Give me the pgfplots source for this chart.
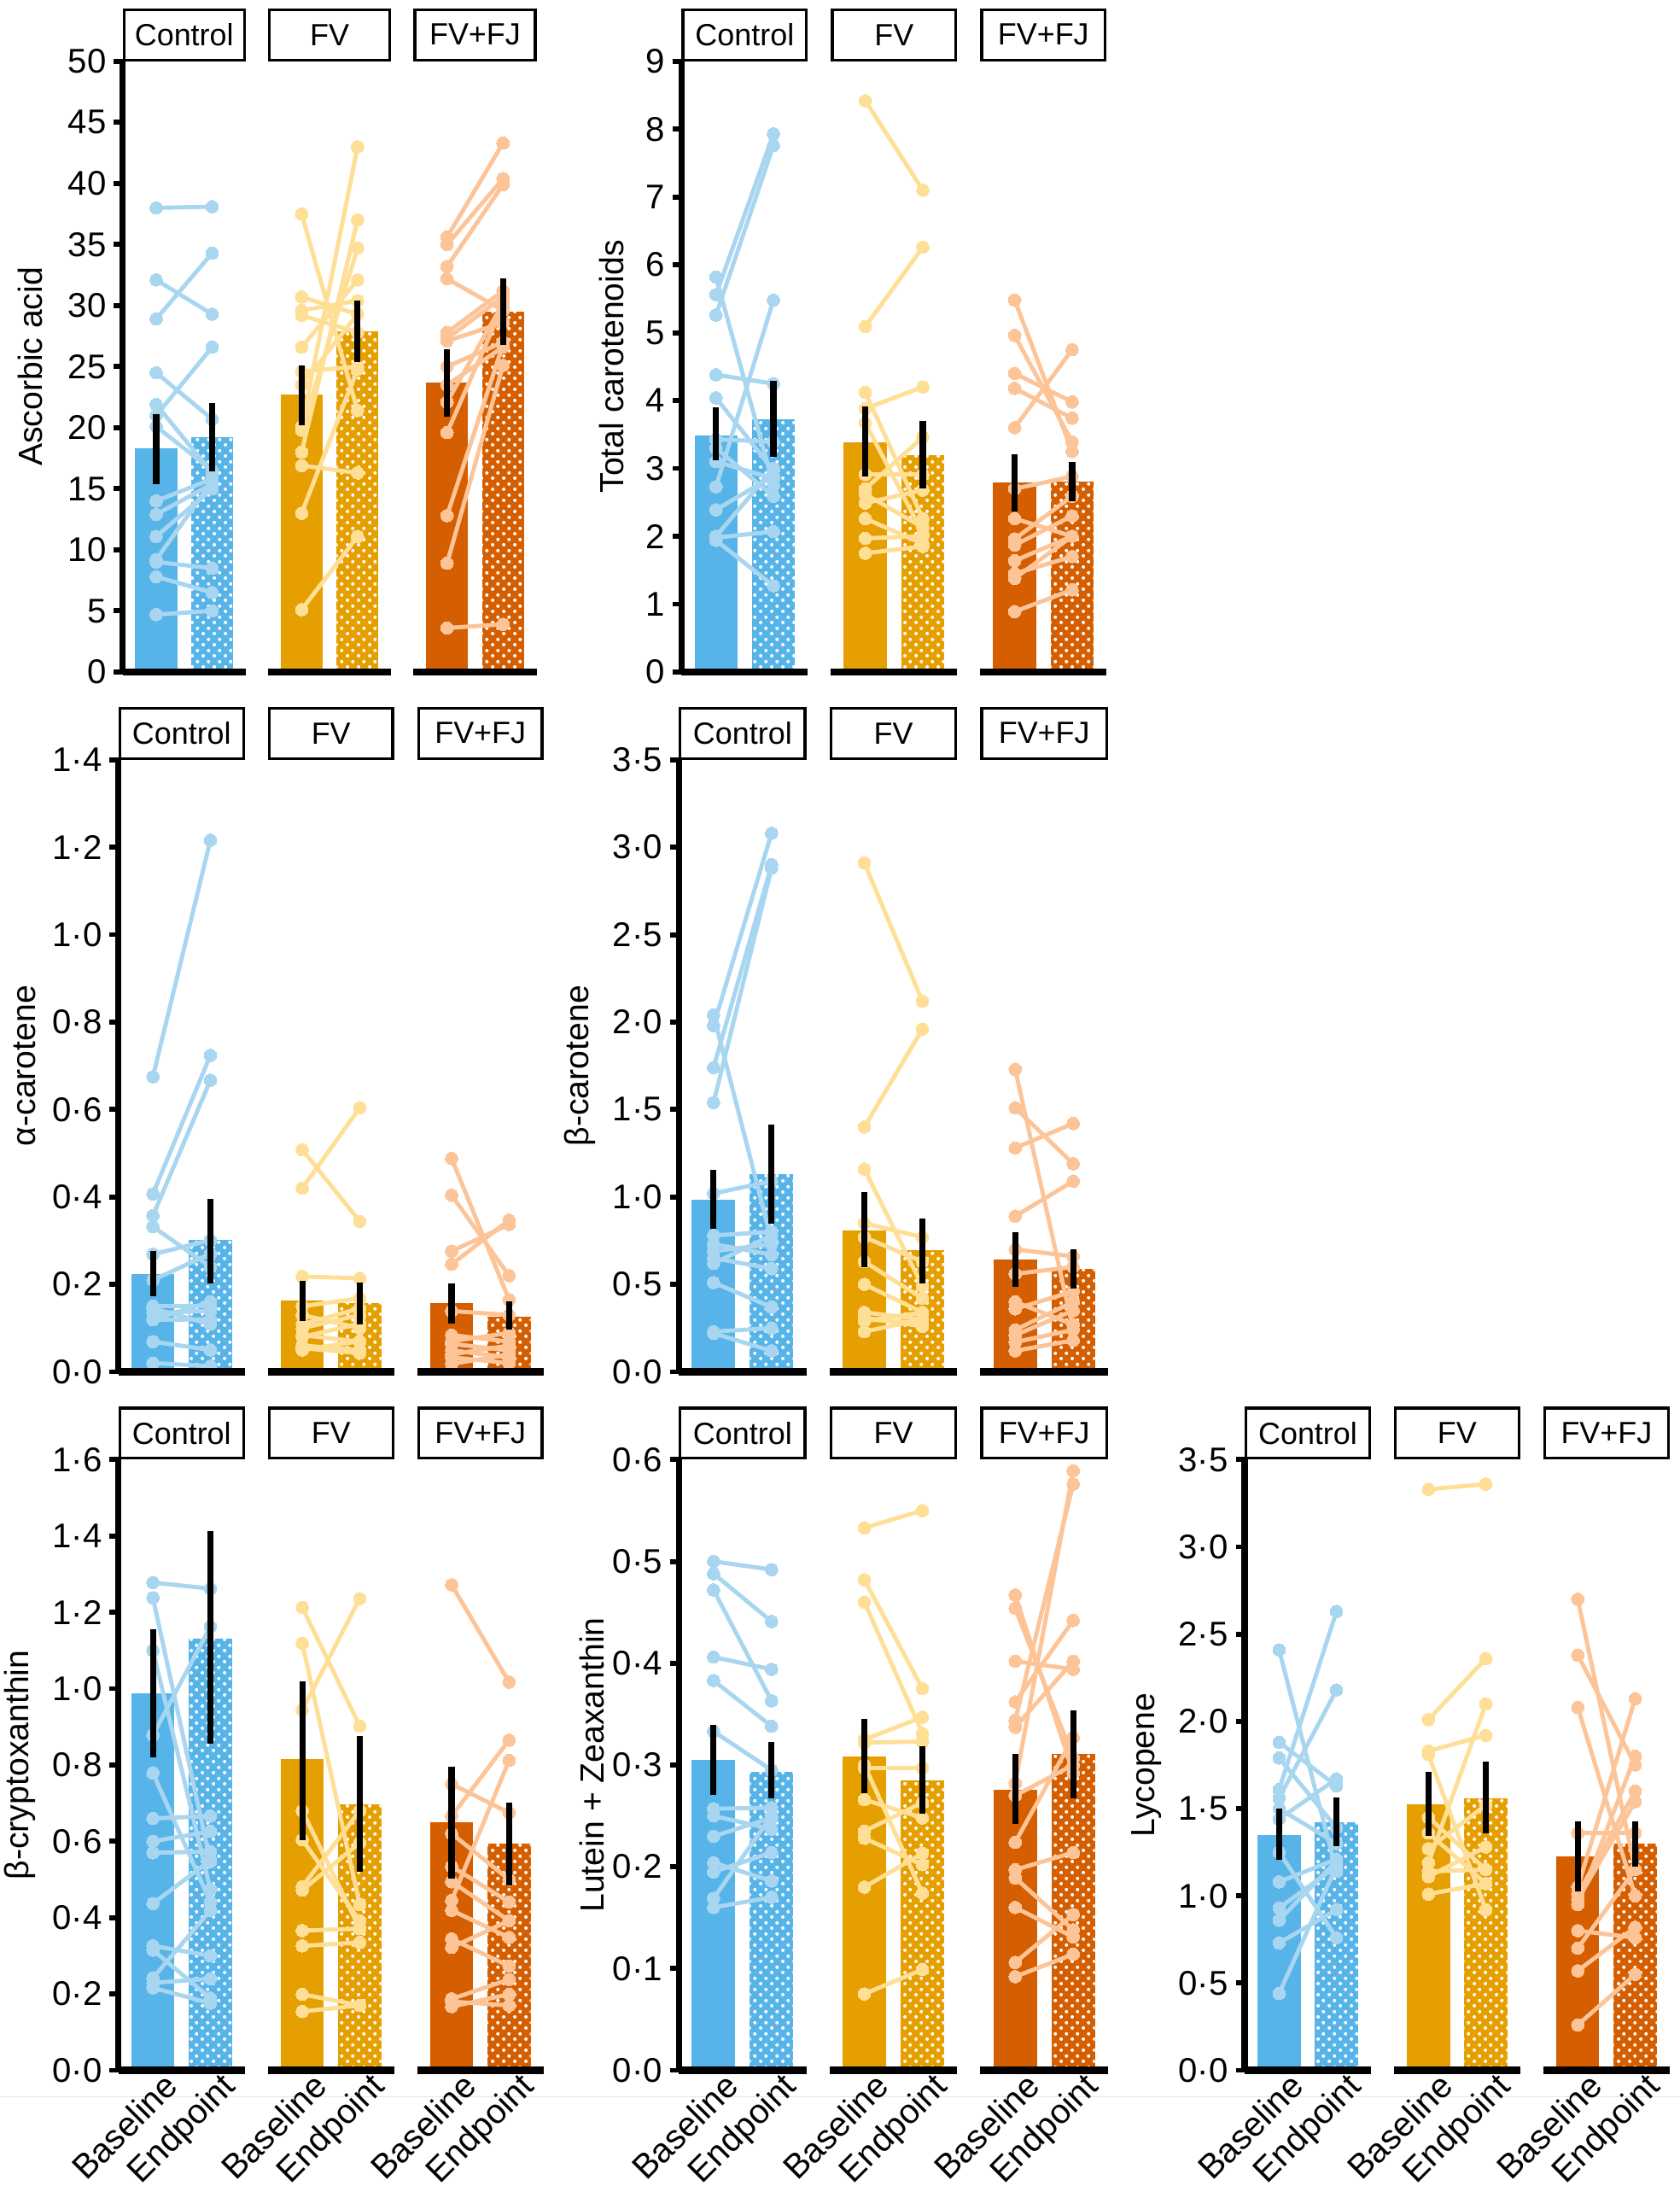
\documentclass[border=0pt]{standalone}
\usepackage{fontspec}
\setmainfont{Liberation Sans}
\usepackage{pgfplots}
\pgfplotsset{compat=1.18}
\usepackage{pgfplotstable}
\usetikzlibrary{patterns.meta}

% white dot fill used for the endpoint bars
\pgfdeclarepattern{
  name=wdots,
  type=uncolored,
  bottom left={\pgfpoint{0pt}{0pt}},
  top right={\pgfpoint{4pt}{4pt}},
  tile size={\pgfpoint{4pt}{4pt}},
  code={
    \pgfpathcircle{\pgfpoint{1pt}{1pt}}{0.65pt}
    \pgfpathcircle{\pgfpoint{3pt}{3pt}}{0.65pt}
    \pgfusepath{fill}
  }
}

\definecolor{cC}{HTML}{56B4E9}
\definecolor{cF}{HTML}{E69F00}
\definecolor{cJ}{HTML}{D55E00}
\definecolor{lC}{RGB}{168,214,240}
\definecolor{lF}{RGB}{255,222,150}
\definecolor{lJ}{RGB}{253,196,152}

\newcommand\tickfont{\fontsize{12.3}{14}\selectfont}
\newcommand\titlefont{\fontsize{12}{14}\selectfont}
\newcommand\stripfont{\fontsize{11}{13}\selectfont}

% ---------------- individual values: b = baseline, e = endpoint ----------------
% Ascorbic acid
\pgfplotstableread{
b e
38.0 38.1
32.1 29.3
28.9 34.3
24.5 20.7
21.0 26.6
21.9 16.3
20.1 16.5
14.0 15.8
12.9 15.4
11.1 15.0
9.2 15.6
9.0 8.5
7.8 6.5
4.7 5.0
}\ascC
\pgfplotstableread{
b e
37.5 21.4
30.7 29.3
29.6 30.4
29.2 27.8
26.6 32.1
24.6 25.0
23.5 29.3
20.1 43.0
19.8 34.7
18.0 37.0
16.9 16.3
13.0 24.8
5.1 11.1
}\ascF
\pgfplotstableread{
b e
35.6 43.3
35.0 40.4
33.2 39.9
32.2 29.6
27.8 31.2
27.3 30.7
27.1 28.6
25.0 27.0
23.5 26.6
22.1 30.2
19.6 30.0
12.8 26.8
8.9 25.1
3.6 3.9
}\ascJ
% Total carotenoids
\pgfplotstableread{
b e
5.82 2.75
5.56 7.93
5.26 7.76
4.38 4.25
4.04 2.97
3.43 3.39
3.30 2.59
3.10 2.85
2.73 5.48
2.39 2.89
2.00 3.00
1.98 2.07
1.94 1.27
}\totC
\pgfplotstableread{
b e
8.42 7.10
5.09 6.26
4.12 2.26
3.88 4.20
3.67 2.04
2.91 2.91
2.70 3.46
2.62 2.13
2.49 2.68
2.26 1.89
1.97 2.00
1.75 1.85
}\totF
\pgfplotstableread{
b e
5.48 3.25
4.96 3.39
4.40 3.98
4.18 3.74
3.60 4.75
2.70 2.88
2.26 2.00
1.96 2.59
1.87 2.30
1.64 2.00
1.45 1.70
1.38 2.00
0.89 1.21
}\totJ
% alpha-carotene
\pgfplotstableread{
b e
0.675 1.216
0.407 0.724
0.357 0.667
0.332 0.240
0.269 0.301
0.210 0.270
0.150 0.150
0.145 0.109
0.134 0.140
0.119 0.120
0.120 0.160
0.069 0.050
0.020 0.013
}\alpC
\pgfplotstableread{
b e
0.508 0.344
0.420 0.604
0.218 0.214
0.150 0.168
0.130 0.100
0.109 0.145
0.100 0.130
0.084 0.069
0.080 0.110
0.060 0.050
0.054 0.043
0.050 0.070
}\alpF
\pgfplotstableread{
b e
0.488 0.165
0.404 0.220
0.276 0.337
0.246 0.347
0.139 0.130
0.084 0.069
0.070 0.089
0.064 0.049
0.049 0.033
0.040 0.060
0.033 0.020
0.018 0.040
}\alpJ
% beta-carotene
\pgfplotstableread{
b e
2.04 0.75
1.98 3.08
1.74 2.90
1.54 2.88
1.02 1.09
0.78 0.80
0.73 0.67
0.69 0.73
0.65 0.59
0.62 0.78
0.51 0.37
0.23 0.25
0.22 0.12
}\betC
\pgfplotstableread{
b e
2.91 2.12
1.40 1.96
1.16 0.49
0.85 0.77
0.77 0.63
0.63 0.42
0.50 0.34
0.34 0.30
0.31 0.26
0.30 0.28
0.29 0.34
0.23 0.30
}\betF
\pgfplotstableread{
b e
1.73 0.24
1.51 1.19
1.28 1.42
0.89 1.09
0.70 0.66
0.56 0.60
0.40 0.27
0.36 0.46
0.24 0.40
0.21 0.35
0.17 0.24
0.12 0.18
}\betJ
% beta-cryptoxanthin
\pgfplotstableread{
b e
1.278 1.262
1.238 0.547
1.100 0.474
0.878 1.163
0.779 0.441
0.660 0.666
0.600 0.626
0.570 0.573
0.437 0.550
0.326 0.300
0.315 0.189
0.242 0.419
0.229 0.240
0.216 0.176
}\cryC
\pgfplotstableread{
b e
1.213 0.902
1.119 0.434
0.944 1.236
0.680 0.371
0.604 0.392
0.481 0.680
0.472 0.596
0.366 0.371
0.326 0.335
0.199 0.170
0.154 0.170
}\cryF
\pgfplotstableread{
b e
1.272 1.017
0.750 0.675
0.666 0.865
0.620 0.500
0.534 0.441
0.494 0.392
0.445 0.812
0.419 0.348
0.344 0.273
0.322 0.392
0.187 0.238
0.180 0.170
0.167 0.199
}\cryJ
% Lutein + Zeaxanthin
\pgfplotstableread{
b e
0.500 0.492
0.488 0.441
0.472 0.363
0.406 0.394
0.383 0.338
0.333 0.295
0.257 0.258
0.250 0.237
0.230 0.248
0.204 0.186
0.195 0.214
0.169 0.250
0.160 0.170
}\lutC
\pgfplotstableread{
b e
0.533 0.550
0.482 0.375
0.460 0.331
0.325 0.347
0.322 0.323
0.297 0.297
0.300 0.174
0.266 0.248
0.235 0.263
0.228 0.202
0.180 0.213
0.075 0.099
}\lutF
\pgfplotstableread{
b e
0.467 0.292
0.454 0.307
0.402 0.394
0.362 0.442
0.344 0.576
0.337 0.402
0.282 0.589
0.270 0.300
0.224 0.327
0.197 0.214
0.189 0.138
0.160 0.131
0.106 0.153
0.092 0.114
}\lutJ
% Lycopene
\pgfplotstableread{
b e
2.41 1.14
1.88 1.63
1.79 1.39
1.61 2.63
1.56 2.18
1.44 1.67
1.50 1.30
1.25 0.76
1.08 1.21
0.93 1.17
0.86 1.20
0.73 0.92
0.44 1.17
}\lycC
\pgfplotstableread{
b e
3.33 3.36
2.01 2.36
1.83 1.92
1.81 0.92
1.45 1.15
1.36 1.07
1.27 1.52
1.19 2.10
1.14 1.15
1.11 1.28
1.01 1.07
}\lycF
\pgfplotstableread{
b e
2.70 1.15
2.38 1.75
2.08 1.00
1.36 1.36
1.05 2.13
1.01 1.60
0.98 1.54
0.95 1.80
0.80 0.76
0.70 1.15
0.57 0.82
0.26 0.55
}\lycJ

% ---------------- drawing helpers ----------------
% #1 baseline x, #2 endpoint x, #3 bar colour, #4 light colour, #5 table, #6 baseline mean, #7 endpoint mean
\newcommand{\facet}[7]{%
  \addplot[ybar, bar shift=0pt, bar width=0.75, fill=#3, draw=none] coordinates {(#1,#6)};
  \addplot[ybar, bar shift=0pt, bar width=0.75, fill=#3, draw=none,
           postaction={pattern=wdots, pattern color=white}] coordinates {(#2,#7)};
  \addplot[#4, line width=1.5pt, quiver={u=#2-#1, v=\thisrow{e}-\thisrow{b}}]
     table[x expr=#1, y=b] {#5};
  \addplot[#4, only marks, mark=*, mark size=2.25pt, mark options={fill=#4, draw=#4, line width=0pt}]
     table[x expr=#1, y=b] {#5};
  \addplot[#4, only marks, mark=*, mark size=2.25pt, mark options={fill=#4, draw=#4, line width=0pt}]
     table[x expr=#2, y=e] {#5};
}
% error bars: #1 baseline x, #2 endpoint x, #3-#4 baseline range, #5-#6 endpoint range
\newcommand{\errs}[6]{%
  \addplot[black, line width=2.2pt, mark=none] coordinates {(#1,#3) (#1,#4)};
  \addplot[black, line width=2.2pt, mark=none] coordinates {(#2,#5) (#2,#6)};
}
% facet base line and title strip: #1 left, #2 right, #3 top value, #4 title
\newcommand{\strip}[4]{%
  \draw[line width=2.5pt] (#1,0) -- (#2,0);
  \draw[line width=1pt, fill=white] ([xshift=0.5pt,yshift=0.5pt]#1,#3) rectangle ([xshift=-0.5pt,yshift=18.5pt]#2,#3);
  \path (#1,#3) -- (#2,#3) node[midway, yshift=9.5pt, font=\stripfont, inner sep=0pt] {#4};
}
\newcommand{\frames}[1]{%
  \draw[line width=2.2pt] (-0.6,0) -- (-0.6,#1);
  \strip{-0.6}{1.6}{#1}{Control}
  \strip{2.0}{4.2}{#1}{FV}
  \strip{4.6}{6.8}{#1}{FV+FJ}
}

\pgfplotsset{
  facet/.style={
    anchor=south west, scale only axis, clip=false, clip marker paths=true,
    xmin=-0.6, xmax=6.8, ymin=0, enlargelimits=false,
    axis lines=left, axis line style={draw=none},
    xtick={0,1,2.6,3.6,5.2,6.2}, xticklabels={},
    xtick style={draw=none},
    ytick style={black, line width=1.8pt},
    tick align=outside, major tick length=3.2pt,
    yticklabel style={font=\tickfont, inner sep=2.5pt},
    xticklabel style={font=\tickfont, rotate=45, anchor=north east, inner sep=0pt, xshift=4.5pt, yshift=0pt},
    ylabel style={font=\titlefont},
  },
  xlab/.style={xticklabels={Baseline,Endpoint,Baseline,Endpoint,Baseline,Endpoint}},
}

\begin{document}
\begin{tikzpicture}
\draw[black!10, line width=0.4pt] (0pt,32pt) -- (602.5pt,32pt);

% Ascorbic acid
\begin{axis}[facet, at={(44pt,543pt)}, width=148.5pt, height=219pt, ymax=50,
  ytick={0,5,10,15,20,25,30,35,40,45,50},
  yticklabels={0,5,10,15,20,25,30,35,40,45,50},
  ylabel={Ascorbic acid}, ylabel shift=3pt]
  \facet{0}{1}{cC}{lC}{\ascC}{18.3}{19.2}
  \errs{0}{1}{15.4}{21.1}{16.4}{22.0}
  \facet{2.6}{3.6}{cF}{lF}{\ascF}{22.7}{27.9}
  \errs{2.6}{3.6}{20.2}{25.1}{25.4}{30.4}
  \facet{5.2}{6.2}{cJ}{lJ}{\ascJ}{23.7}{29.5}
  \errs{5.2}{6.2}{20.9}{26.4}{26.8}{32.2}
  \frames{50}
\end{axis}

% Total carotenoids
\begin{axis}[facet, at={(244.5pt,543pt)}, width=152.5pt, height=219pt, ymax=9,
  ytick={0,1,2,3,4,5,6,7,8,9},
  yticklabels={0,1,2,3,4,5,6,7,8,9},
  ylabel={Total carotenoids}, ylabel shift=2pt]
  \facet{0}{1}{cC}{lC}{\totC}{3.49}{3.73}
  \errs{0}{1}{3.12}{3.90}{3.17}{4.29}
  \facet{2.6}{3.6}{cF}{lF}{\totF}{3.39}{3.20}
  \errs{2.6}{3.6}{2.88}{3.91}{2.71}{3.70}
  \facet{5.2}{6.2}{cJ}{lJ}{\totJ}{2.79}{2.80}
  \errs{5.2}{6.2}{2.36}{3.21}{2.52}{3.10}
  \frames{9}
\end{axis}

% alpha-carotene
\begin{axis}[facet, at={(42.5pt,292pt)}, width=152.5pt, height=219.5pt, ymax=1.4,
  ytick={0,0.2,0.4,0.6,0.8,1.0,1.2,1.4},
  yticklabels={0·0,0·2,0·4,0·6,0·8,1·0,1·2,1·4},
  ylabel={α-carotene}]
  \facet{0}{1}{cC}{lC}{\alpC}{0.224}{0.301}
  \errs{0}{1}{0.173}{0.276}{0.203}{0.395}
  \facet{2.6}{3.6}{cF}{lF}{\alpF}{0.163}{0.157}
  \errs{2.6}{3.6}{0.117}{0.208}{0.109}{0.205}
  \facet{5.2}{6.2}{cJ}{lJ}{\alpJ}{0.158}{0.126}
  \errs{5.2}{6.2}{0.111}{0.202}{0.097}{0.162}
  \frames{1.4}
\end{axis}

% beta-carotene
\begin{axis}[facet, at={(243.5pt,292pt)}, width=154pt, height=219.5pt, ymax=3.5,
  ytick={0,0.5,1.0,1.5,2.0,2.5,3.0,3.5},
  yticklabels={0·0,0·5,1·0,1·5,2·0,2·5,3·0,3·5},
  ylabel={β-carotene}]
  \facet{0}{1}{cC}{lC}{\betC}{0.986}{1.13}
  \errs{0}{1}{0.816}{1.157}{0.847}{1.415}
  \facet{2.6}{3.6}{cF}{lF}{\betF}{0.81}{0.695}
  \errs{2.6}{3.6}{0.596}{1.026}{0.505}{0.879}
  \facet{5.2}{6.2}{cJ}{lJ}{\betJ}{0.644}{0.589}
  \errs{5.2}{6.2}{0.488}{0.80}{0.475}{0.70}
  \frames{3.5}
\end{axis}

% beta-cryptoxanthin
\begin{axis}[facet, xlab, at={(42.5pt,41.5pt)}, width=152.5pt, height=219pt, ymax=1.6,
  ytick={0,0.2,0.4,0.6,0.8,1.0,1.2,1.4,1.6},
  yticklabels={0·0,0·2,0·4,0·6,0·8,1·0,1·2,1·4,1·6},
  ylabel={β-cryptoxanthin}]
  \facet{0}{1}{cC}{lC}{\cryC}{0.988}{1.13}
  \errs{0}{1}{0.821}{1.156}{0.856}{1.412}
  \facet{2.6}{3.6}{cF}{lF}{\cryF}{0.815}{0.697}
  \errs{2.6}{3.6}{0.604}{1.02}{0.52}{0.875}
  \facet{5.2}{6.2}{cJ}{lJ}{\cryJ}{0.649}{0.593}
  \errs{5.2}{6.2}{0.503}{0.795}{0.485}{0.702}
  \frames{1.6}
\end{axis}

% Lutein + Zeaxanthin
\begin{axis}[facet, xlab, at={(243.5pt,41.5pt)}, width=154pt, height=219pt, ymax=0.6,
  ytick={0,0.1,0.2,0.3,0.4,0.5,0.6},
  yticklabels={0·0,0·1,0·2,0·3,0·4,0·5,0·6},
  ylabel={Lutein + Zeaxanthin}, ylabel shift=-3pt]
  \facet{0}{1}{cC}{lC}{\lutC}{0.305}{0.293}
  \errs{0}{1}{0.271}{0.339}{0.267}{0.323}
  \facet{2.6}{3.6}{cF}{lF}{\lutF}{0.308}{0.285}
  \errs{2.6}{3.6}{0.272}{0.345}{0.252}{0.318}
  \facet{5.2}{6.2}{cJ}{lJ}{\lutJ}{0.276}{0.311}
  \errs{5.2}{6.2}{0.242}{0.311}{0.267}{0.354}
  \frames{0.6}
\end{axis}

% Lycopene
\begin{axis}[facet, xlab, at={(446.5pt,41.5pt)}, width=152.5pt, height=219pt, ymax=3.5,
  ytick={0,0.5,1.0,1.5,2.0,2.5,3.0,3.5},
  yticklabels={0·0,0·5,1·0,1·5,2·0,2·5,3·0,3·5},
  ylabel={Lycopene}]
  \facet{0}{1}{cC}{lC}{\lycC}{1.35}{1.42}
  \errs{0}{1}{1.205}{1.50}{1.284}{1.565}
  \facet{2.6}{3.6}{cF}{lF}{\lycF}{1.524}{1.559}
  \errs{2.6}{3.6}{1.342}{1.71}{1.356}{1.768}
  \facet{5.2}{6.2}{cJ}{lJ}{\lycJ}{1.226}{1.298}
  \errs{5.2}{6.2}{1.023}{1.429}{1.168}{1.429}
  \frames{3.5}
\end{axis}

\pgfresetboundingbox
\path[use as bounding box] (0,0) rectangle (602.5pt,784pt);
\end{tikzpicture}
\end{document}
